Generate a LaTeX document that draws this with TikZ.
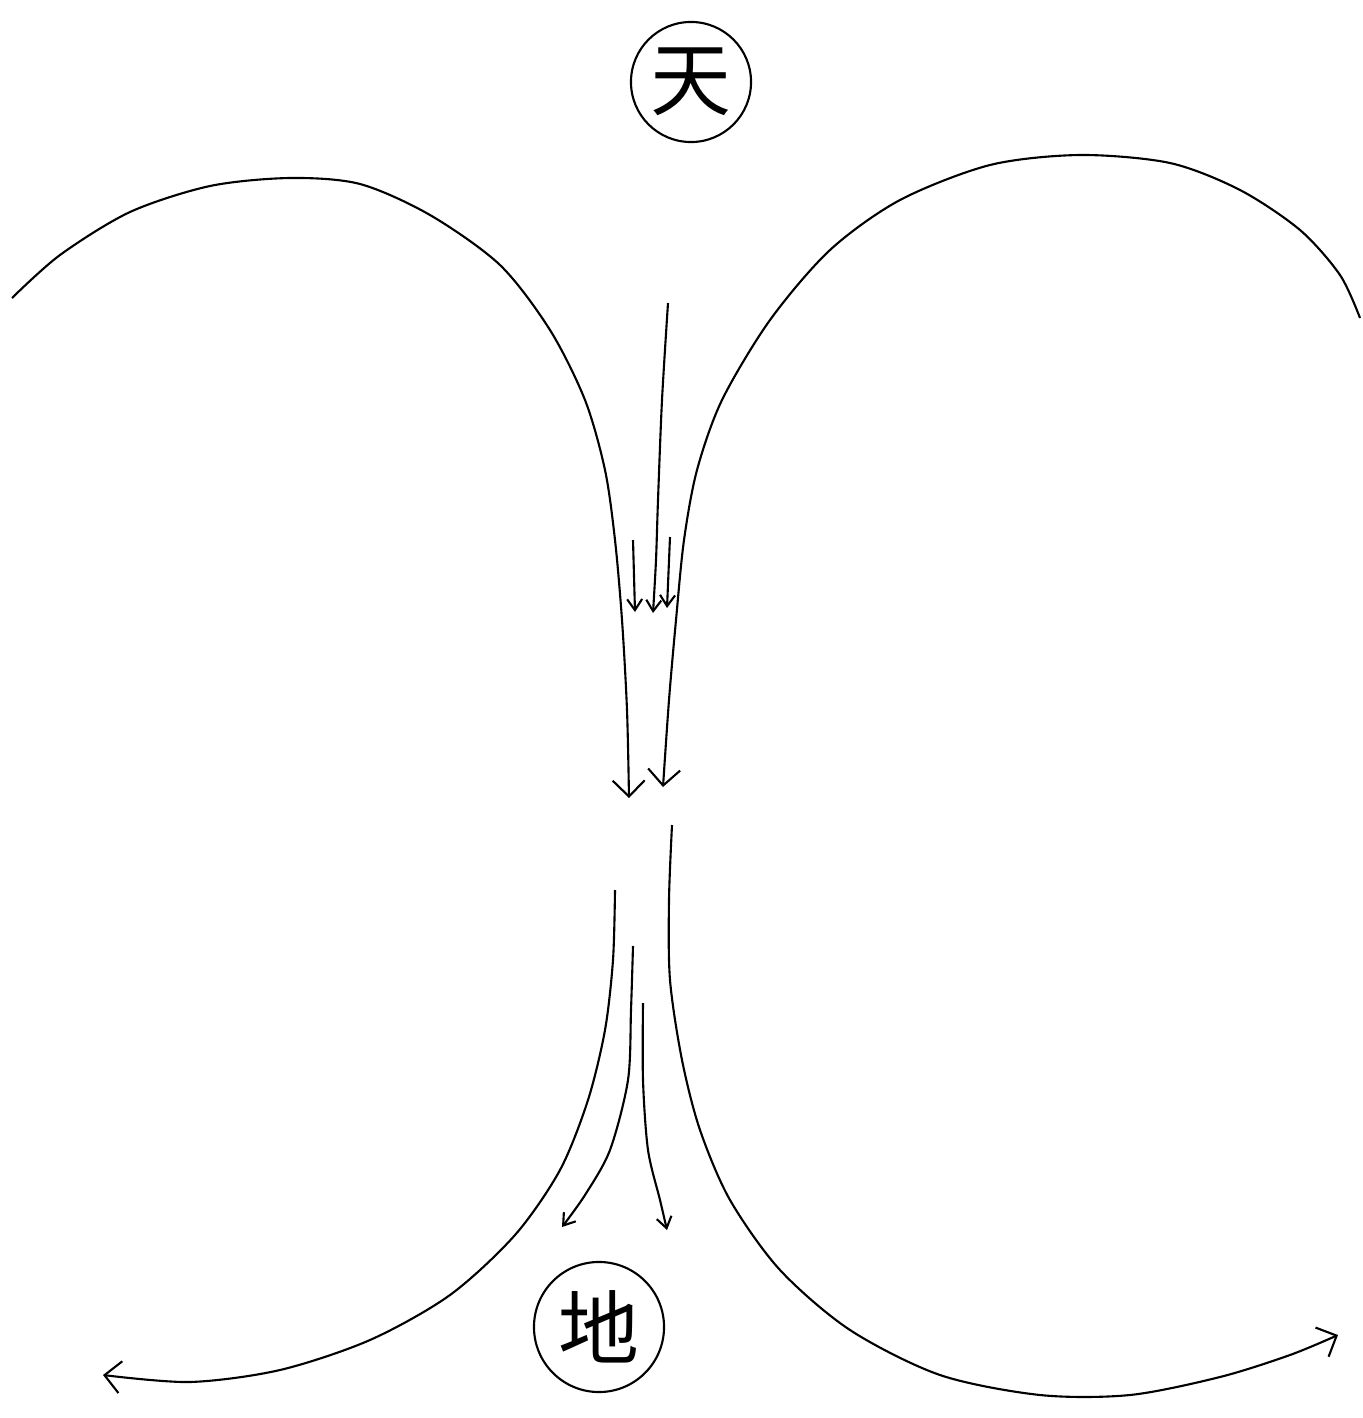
\documentclass[tikz,border=0pt]{standalone}
\usepackage{fontspec}
\newfontfamily\cjk{Noto Sans CJK SC}
\usetikzlibrary{arrows.meta}

\begin{document}
\begin{tikzpicture}[x=0.01cm,y=-0.01cm,line width=0.6pt,
  flow/.style={-{Straight Barb[length=1.6mm,width=3.2mm]}},
  smallflow/.style={-{Straight Barb[length=1.1mm,width=1.5mm]}},
  realm/.style={draw,circle,inner sep=0pt,font=\cjk\fontsize{23}{28}\selectfont}]
  \useasboundingbox (0,0) rectangle (1362,1418);

  \node[realm,minimum size=1.2cm] (tian) at (691,82) {天};
  \node[realm,minimum size=1.3cm] (di) at (599,1327) {地};

  % descending from heaven
  \draw[flow] plot[smooth] coordinates {
    (12,298) (60,255) (130,212) (210,186) (290,178) (360,184)
    (430,215) (500,265) (550,330) (585,400) (605,470) (615,540)
    (622,620) (627,710) (629,798)
  };
  \draw[flow] plot[smooth] coordinates {
    (1360,318) (1340,275) (1300,230) (1240,190) (1170,163) (1080,155)
    (990,165) (900,200) (830,250) (770,320) (722,400) (697,470)
    (684,540) (676,620) (669,700) (663,787)
  };
  \draw[smallflow] plot[smooth] coordinates {
    (668,303) (662,400) (658,500) (656,560) (653,613)
  };
  \draw[smallflow] (633,540) -- (635,612);
  \draw[smallflow] (670,537) -- (667,608);

  % spreading over the earth
  \draw[flow] plot[smooth] coordinates {
    (672,825) (669,900) (670,980) (682,1060) (700,1130) (730,1200)
    (780,1270) (850,1330) (940,1375) (1040,1395) (1130,1395)
    (1220,1377) (1290,1355) (1338,1335)
  };
  \draw[flow] plot[smooth] coordinates {
    (615,890) (613,960) (605,1030) (588,1100) (560,1170) (515,1235)
    (450,1295) (370,1340) (280,1370) (190,1382) (103,1375)
  };
  \draw[smallflow] plot[smooth] coordinates {
    (633,946) (631,1010) (628,1080) (610,1150) (585,1195) (562,1227)
  };
  \draw[smallflow] plot[smooth] coordinates {
    (643,1003) (643,1080) (648,1150) (660,1200) (667,1230)
  };
\end{tikzpicture}
\end{document}
